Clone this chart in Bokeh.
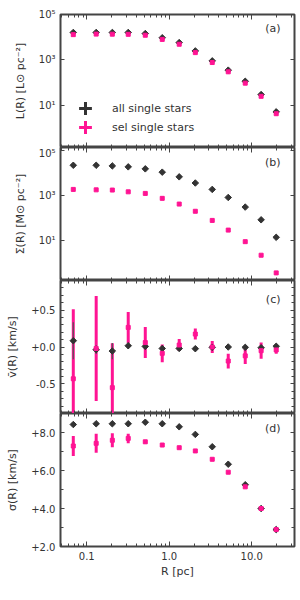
import numpy as np
from bokeh.plotting import figure
from bokeh.models import (LogAxis, LinearAxis, FixedTicker, Legend, LegendItem, Label,
                          Range1d, CustomJSTickFormatter, Grid)
from bokeh.layouts import column
from bokeh.embed import file_html
from bokeh.resources import INLINE

# ---------------- data ----------------
R = [0.0686, 0.130, 0.204, 0.318, 0.512, 0.822, 1.32, 2.07, 3.32, 5.19, 8.34, 13.0, 19.8]

L_all = [1.62e4, 1.62e4, 1.62e4, 1.62e4, 1.45e4, 9.5e3, 5.8e3, 2.5e3, 910, 355, 115, 30, 5.2]
L_sel = [1.30e4, 1.37e4, 1.36e4, 1.34e4, 1.22e4, 8.0e3, 4.9e3, 2.1e3, 770, 300, 95, 25, 4.3]

S_all = [2.24e4, 2.24e4, 2.1e4, 1.9e4, 1.55e4, 1.1e4, 6.8e3, 3.6e3, 1.86e3, 810, 300, 81, 13.3]
S_sel = [1.86e3, 1.78e3, 1.74e3, 1.45e3, 1.23e3, 740, 410, 195, 76, 28, 8.5, 2.1, 0.34]

V_all = [0.085, -0.036, -0.055, 0.017, 0.008, -0.02, -0.02, -0.023, -0.005, 0.0, -0.005, -0.01, 0.01]
V_all_err = [0.25, 0.06, 0.11, 0.04, 0.04, 0.03, 0.03, 0.02, 0.02, 0.02, 0.02, 0.02, 0.02]
V_sel = [-0.43, -0.02, -0.55, 0.265, 0.06, -0.086, 0.027, 0.175, 0.0, -0.19, -0.12, -0.05, -0.04]
V_sel_err = [0.94, 0.71, 0.6, 0.21, 0.21, 0.12, 0.08, 0.075, 0.08, 0.1, 0.11, 0.11, 0.05]

D_all = [8.42, 8.46, 8.46, 8.46, 8.54, 8.46, 8.3, 7.9, 7.25, 6.33, 5.25, 4.0, 2.89]
D_all_err = [0.05, 0.05, 0.05, 0.05, 0.05, 0.05, 0.05, 0.05, 0.05, 0.05, 0.05, 0.05, 0.05]
D_sel = [7.29, 7.43, 7.59, 7.69, 7.51, 7.34, 7.2, 7.03, 6.59, 5.91, 5.14, 4.0, 2.89]
D_sel_err = [0.53, 0.5, 0.37, 0.25, 0.1, 0.06, 0.05, 0.05, 0.05, 0.05, 0.05, 0.05, 0.05]

x_major = [0.1, 1.0, 10.0]
x_minor = [0.05, 0.06, 0.07, 0.08, 0.09, 0.2, 0.3, 0.4, 0.5, 0.6, 0.7, 0.8, 0.9,
           2, 3, 4, 5, 6, 7, 8, 9, 20, 30]
log_y_major = [10, 1e3, 1e5]
log_y_minor = []
v_major = [-0.5, 0.0, 0.5]
v_minor = [-0.9, -0.8, -0.7, -0.6, -0.4, -0.3, -0.2, -0.1, 0.1, 0.2, 0.3, 0.4, 0.6, 0.7, 0.8, 0.9]
s_major = [2, 4, 6, 8]
s_minor = [3, 5, 7, 9]

labels = ["all single stars", "sel single stars"]
panel_tags = ["(a)", "(b)", "(c)", "(d)"]
ylabels = ["L(R) [L\u2299 pc\u207b\u00b2]", "\u03a3(R) [M\u2299 pc\u207b\u00b2]",
           "v\u0304(R) [km/s]", "\u03c3(R) [km/s]"]
xlabel = "R [pc]"

# ---------------- style ----------------
FONT = "DejaVu Sans"
SPINE = "#444444"
TXT = "#333333"
BLACK = "#333333"
BERR = "#555555"
PINK = "#ff1493"
FW, FH = 234, 133
TAG_DY = [14, 15, 19, 15]

log_fmt = CustomJSTickFormatter(code="""
const sup = {"0":"\u2070","1":"\u00b9","2":"\u00b2","3":"\u00b3","4":"\u2074","5":"\u2075",
             "6":"\u2076","7":"\u2077","8":"\u2078","9":"\u2079","-":"\u207b"};
const e = Math.round(Math.log10(tick));
return "10" + String(e).split("").map(c => sup[c]).join("");
""")
signed_fmt = CustomJSTickFormatter(code="""
return (tick >= 0 ? "+" : "-") + Math.abs(tick).toFixed(1);
""")
x_fmt = CustomJSTickFormatter(code="return tick.toFixed(1);")


def base_axis(ax):
    ax.axis_line_color = None
    ax.major_tick_out = 0
    ax.minor_tick_out = 0
    ax.major_tick_line_color = SPINE
    ax.minor_tick_line_color = SPINE
    ax.major_tick_line_width = 1
    ax.minor_tick_line_width = 1
    return ax


def labelled_axis(ax, major, minor, formatter, major_len, minor_len):
    base_axis(ax)
    ax.ticker = FixedTicker(ticks=list(major), minor_ticks=list(minor))
    ax.major_tick_in = major_len
    ax.minor_tick_in = minor_len
    ax.formatter = formatter
    ax.major_label_text_font = FONT
    ax.major_label_text_font_size = "10px"
    ax.major_label_text_color = TXT
    ax.major_label_standoff = 5
    return ax


def tick_only_axes(p, cls, side, major, minor, major_len, minor_len):
    # ticks drawn as "minor" ticks only -> no labels, no reserved space
    for ticks, ln in ((major, major_len), (minor, minor_len)):
        if len(ticks) == 0:
            continue
        ax = base_axis(cls())
        ax.ticker = FixedTicker(ticks=[], minor_ticks=list(ticks))
        ax.major_tick_in = 0
        ax.minor_tick_in = ln
        ax.major_label_standoff = 0
        p.add_layout(ax, side)


def make_fig(idx, ylog, yr, top_b, bot_b, ymaj, ymin, yfmt, show_x):
    p = figure(x_axis_type="log", y_axis_type="log" if ylog else "linear",
               x_range=Range1d(0.048, 33), y_range=Range1d(*yr),
               frame_width=FW, frame_height=FH,
               min_border_left=60, min_border_right=5,
               min_border_top=top_b, min_border_bottom=bot_b,
               x_axis_location=None, y_axis_location=None,
               output_backend="svg", toolbar_location=None)
    for g in p.select(type=Grid):
        g.visible = False
    p.outline_line_color = SPINE
    p.outline_line_width = 2
    p.background_fill_color = "white"
    p.border_fill_color = "white"
    AxY = LogAxis if ylog else LinearAxis
    if show_x:
        bottom = labelled_axis(LogAxis(), x_major, x_minor, x_fmt, 5, 3)
        bottom.axis_label = xlabel
        bottom.axis_label_text_font = FONT
        bottom.axis_label_text_font_size = "11px"
        bottom.axis_label_text_font_style = "normal"
        bottom.axis_label_text_color = TXT
        bottom.axis_label_standoff = 2
        p.add_layout(bottom, "below")
    else:
        tick_only_axes(p, LogAxis, "below", x_major, x_minor, 5, 3)
    tick_only_axes(p, LogAxis, "above", x_major, x_minor, 5, 3)
    left = labelled_axis(AxY(), ymaj, ymin, yfmt, 4, 3)
    left.axis_label = ylabels[idx]
    left.axis_label_text_font = FONT
    left.axis_label_text_font_size = "11px"
    left.axis_label_text_font_style = "normal"
    left.axis_label_text_color = TXT
    left.axis_label_standoff = 9
    p.add_layout(left, "left")
    tick_only_axes(p, AxY, "right", ymaj, ymin, 4, 3)
    p.add_layout(Label(x=FW - 14, y=FH - TAG_DY[idx], x_units="screen", y_units="screen",
                       text=panel_tags[idx], text_align="right", text_baseline="middle",
                       text_font=FONT, text_font_size="11px", text_color=TXT))
    return p


def errbars(p, y, err, color, width):
    y = np.asarray(y)
    e = np.asarray(err)
    p.segment(x0=R, y0=y - e, x1=R, y1=y + e, line_color=color, line_width=width)


def points(p, y_all, y_sel, all_err=None, sel_err=None):
    if sel_err is not None:
        errbars(p, y_sel, sel_err, PINK, 3)
    if all_err is not None:
        errbars(p, y_all, all_err, BERR, 1.2)
    p.scatter(R, y_all, marker="square", angle=np.pi / 4, size=4.6,
              fill_color=BLACK, line_color=BLACK, line_width=1)
    p.scatter(R, y_sel, marker="square", size=4, fill_color=PINK, line_color=PINK, line_width=1)


def legend_one(p, label, renderer, y):
    leg = Legend(items=[LegendItem(label=label, renderers=[renderer])],
                 location=(9, y), orientation="vertical",
                 glyph_width=32, glyph_height=32, spacing=0, padding=0, margin=0,
                 label_standoff=11, label_text_font=FONT, label_text_font_size="11px",
                 label_text_color=TXT, background_fill_alpha=0, border_line_color=None)
    p.add_layout(leg)


# panel a
pa = make_fig(0, True, (0.14, 1.0e5), 14, 0, log_y_major, log_y_minor, log_fmt, False)
points(pa, L_all, L_sel)
la = pa.scatter(x=[np.nan], y=[np.nan], marker="cross", size=13, line_width=3, line_color=BLACK)
ls = pa.scatter(x=[np.nan], y=[np.nan], marker="cross", size=13, line_width=3, line_color=PINK)
legend_one(pa, labels[0], la, 23)
legend_one(pa, labels[1], ls, 4)

# panel b
pb = make_fig(1, True, (0.155, 1.4e5), 0, 0, log_y_major, log_y_minor, log_fmt, False)
points(pb, S_all, S_sel)

# panel c
pc = make_fig(2, False, (-0.9, 0.9), 0, 0, v_major, v_minor, signed_fmt, False)
points(pc, V_all, V_sel, V_all_err, V_sel_err)

# panel d
pd_ = make_fig(3, False, (2.0, 9.0), 0, 38, s_major, s_minor, signed_fmt, True)
points(pd_, D_all, D_sel, D_all_err, D_sel_err)

layout = column(pa, pb, pc, pd_, spacing=0)
open("out.html", "w").write(file_html(layout, INLINE))
